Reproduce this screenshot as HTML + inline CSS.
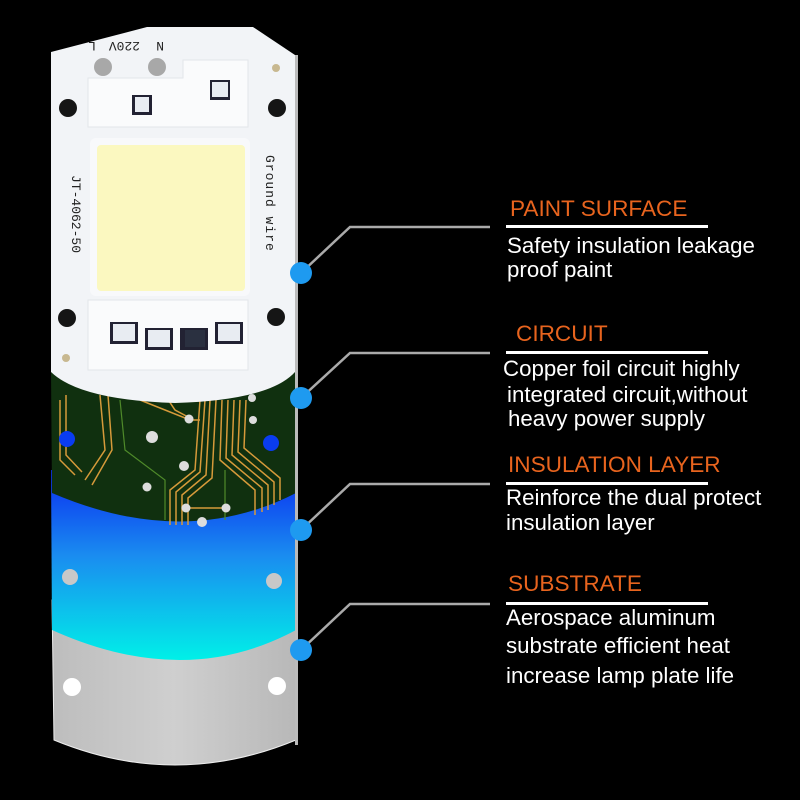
<!DOCTYPE html>
<html><head><meta charset="utf-8"><style>
html,body{margin:0;padding:0;background:#000;width:800px;height:800px;overflow:hidden}
svg{display:block}
.t{font-family:"Liberation Sans",sans-serif;fill:#e8641e;font-size:22.6px}
.b{font-family:"Liberation Sans",sans-serif;fill:#fff;font-size:22.3px}
</style></head><body>
<svg width="800" height="800" viewBox="0 0 800 800" xmlns="http://www.w3.org/2000/svg">
<defs>
<linearGradient id="bl" x1="0" y1="0" x2="0" y2="1">
<stop offset="0" stop-color="#0a2cf0"/><stop offset="0.45" stop-color="#1a8cf0"/><stop offset="1" stop-color="#00f0e8"/>
</linearGradient>
<linearGradient id="gr" x1="0" y1="0" x2="1" y2="0">
<stop offset="0" stop-color="#bdbdbd"/><stop offset="0.5" stop-color="#cfcfcf"/><stop offset="1" stop-color="#b8b8b8"/>
</linearGradient>
</defs>
<rect width="800" height="800" fill="#000"/>
<path d="M52 600 L296 600 L296 740 Q175 790 54 740 Z" fill="url(#gr)" stroke="#eee" stroke-width="1"/>
<circle cx="72" cy="687" r="9" fill="#fff"/><circle cx="277" cy="686" r="9" fill="#fff"/>
<path d="M51 470 L296 470 L296 630 Q185 690 52 630 Z" fill="url(#bl)"/>
<circle cx="70" cy="577" r="8" fill="#c8c8c8"/><circle cx="274" cy="581" r="8" fill="#c8c8c8"/>
<path d="M51 370 L296 370 L296 493 Q185 550 52 493 Z" fill="#10300f"/>
<g stroke="#d69a3a" stroke-width="1.5" fill="none">
<path d="M60 400 L60 460 L75 475"/><path d="M66 395 L66 455 L82 472"/>
<path d="M100 395 L105 450 L85 480"/><path d="M108 395 L112 450 L92 485"/>
<path d="M140 400 L190 420 L200 420"/>
<path d="M165 395 L175 410 L190 418"/>
<path d="M200 400 L195 470 L170 490 L170 525"/><path d="M205 400 L200 472 L176 492 L176 525"/>
<path d="M210 400 L206 475 L182 495 L182 525"/><path d="M216 400 L212 478 L188 498 L188 525"/>
<path d="M222 400 L220 460 L255 490 L255 515"/><path d="M228 400 L226 458 L262 488 L262 512"/>
<path d="M234 400 L232 455 L268 485 L268 510"/><path d="M240 400 L238 452 L274 482 L274 505"/>
<path d="M246 400 L244 448 L280 478 L280 500"/>
<path d="M185 508 L225 508"/>
</g>
<g stroke="#4f8a2a" stroke-width="1.2" fill="none"><path d="M120 400 L125 450 L165 480 L165 520"/><path d="M225 470 L225 520"/></g>
<g fill="#ddd"><circle cx="152" cy="437" r="6"/><circle cx="184" cy="466" r="5"/><circle cx="147" cy="487" r="4.5"/><circle cx="189" cy="419" r="4.5"/><circle cx="186" cy="508" r="4.5"/><circle cx="226" cy="508" r="4.5"/><circle cx="252" cy="398" r="4"/><circle cx="253" cy="420" r="4"/><circle cx="202" cy="522" r="5"/></g>
<circle cx="67" cy="439" r="8" fill="#0a3cf0"/><circle cx="271" cy="443" r="8" fill="#0a3cf0"/>
<path d="M147 27 L253 27 L295 55 L295 372 Q270 400 175 403 Q80 400 51 372 L51 52 Z" fill="#f2f4f7"/>
<rect x="90" y="138" width="160" height="158" rx="6" fill="#f8f9fb"/>
<rect x="97" y="145" width="148" height="146" rx="4" fill="#fbf8c0"/>
<path d="M88 78 L183 78 L183 60 L248 60 L248 127 L88 127 Z" fill="#fafbfc" stroke="#e3e6ea"/>
<rect x="88" y="300" width="160" height="70" fill="#fafbfc" stroke="#e3e6ea"/>
<circle cx="103" cy="67" r="9" fill="#a8a8a8"/><circle cx="157" cy="67" r="9" fill="#a8a8a8"/>
<rect x="132" y="95" width="20" height="20" fill="#223" /><rect x="135" y="97" width="14" height="15" fill="#e8ecf2"/>
<rect x="210" y="80" width="20" height="20" fill="#223" /><rect x="212" y="82" width="16" height="15" fill="#e8ecf2"/>
<rect x="110" y="322" width="28" height="22" fill="#223"/><rect x="113" y="324" width="22" height="17" fill="#e8ecf2"/>
<rect x="145" y="328" width="28" height="22" fill="#223"/><rect x="148" y="330" width="22" height="17" fill="#e8ecf2"/>
<rect x="180" y="328" width="28" height="22" fill="#223"/><rect x="185" y="330" width="20" height="17" fill="#2a3040"/>
<rect x="215" y="322" width="28" height="22" fill="#223"/><rect x="218" y="324" width="22" height="17" fill="#e8ecf2"/>
<circle cx="68" cy="108" r="9" fill="#151515"/><circle cx="277" cy="108" r="9" fill="#151515"/>
<circle cx="67" cy="318" r="9" fill="#151515"/><circle cx="276" cy="317" r="9" fill="#151515"/>
<circle cx="276" cy="68" r="4" fill="#c8b890"/><circle cx="66" cy="358" r="4" fill="#c8b890"/>
<g font-family="Liberation Mono,monospace" font-size="13" fill="#222">
<text transform="translate(96,42) rotate(180)">L</text>
<text transform="translate(140,42) rotate(180)">220V</text>
<text transform="translate(164,42) rotate(180)">N</text>
<text transform="translate(72,175) rotate(90)">JT-4062-50</text>
<text transform="translate(266,155) rotate(90)" letter-spacing="1">Ground wire</text>
</g>
<rect x="295" y="55" width="3" height="690" fill="#bbb"/>
<g stroke="#aaa" stroke-width="2.5" fill="none">
<polyline points="301,273 350,227 490,227"/>
<polyline points="301,398 350,353 490,353"/>
<polyline points="301,530 350,484 490,484"/>
<polyline points="301,650 350,604 490,604"/>
</g>
<g fill="#1e9af0"><circle cx="301" cy="273" r="11"/><circle cx="301" cy="398" r="11"/><circle cx="301" cy="530" r="11"/><circle cx="301" cy="650" r="11"/></g>
<g fill="#fff"><rect x="506" y="225" width="202" height="3"/><rect x="506" y="351" width="202" height="3"/><rect x="506" y="482" width="202" height="3"/><rect x="506" y="602" width="202" height="3"/></g>
<text class="t" x="510" y="216">PAINT SURFACE</text>
<text class="b" x="507" y="253">Safety insulation leakage</text>
<text class="b" x="507" y="277">proof paint</text>
<text class="t" x="516" y="341">CIRCUIT</text>
<text class="b" x="503" y="376">Copper foil circuit highly</text>
<text class="b" x="507" y="402">integrated circuit,without</text>
<text class="b" x="508" y="426">heavy power supply</text>
<text class="t" x="508" y="472">INSULATION LAYER</text>
<text class="b" x="506" y="505">Reinforce the dual protect</text>
<text class="b" x="506" y="530">insulation layer</text>
<text class="t" x="508" y="591">SUBSTRATE</text>
<text class="b" x="506" y="625">Aerospace aluminum</text>
<text class="b" x="506" y="653">substrate efficient heat</text>
<text class="b" x="506" y="683">increase lamp plate life</text>
</svg>
</body></html>
